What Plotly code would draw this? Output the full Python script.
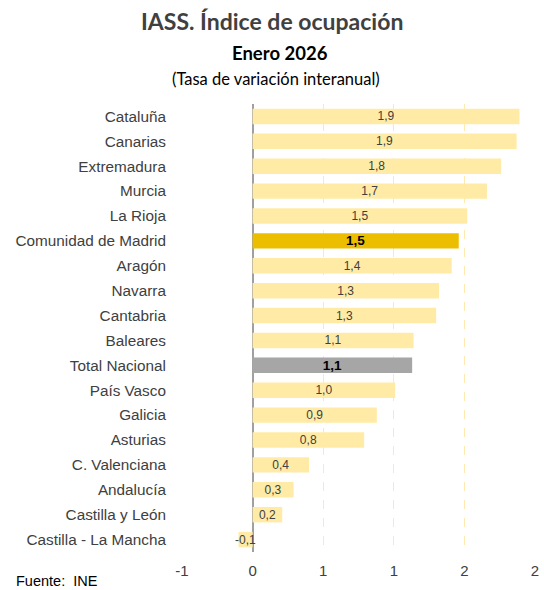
import plotly.graph_objects as go

regions = ["Cataluña", "Canarias", "Extremadura", "Murcia", "La Rioja",
           "Comunidad de Madrid", "Aragón", "Navarra", "Cantabria", "Baleares",
           "Total Nacional", "País Vasco", "Galicia", "Asturias", "C. Valenciana",
           "Andalucía", "Castilla y León", "Castilla - La Mancha"]
values = [1.89, 1.87, 1.76, 1.66, 1.52, 1.46, 1.41, 1.32, 1.30, 1.14,
          1.13, 1.01, 0.88, 0.79, 0.40, 0.29, 0.21, -0.10]
tick_vals = [-0.5, 0, 0.5, 1.0, 1.5, 2.0]
tick_text = ["-1", "0", "1", "1", "2", "2"]

highlight = {"Comunidad de Madrid": "#EBBE00", "Total Nacional": "#A6A6A6"}
base_color = "#FFEBA6"

colors, texts, tsize, tcolor = [], [], [], []
for r, v in zip(regions, values):
    s = f"{v:.1f}".replace(".", ",")
    if r in highlight:
        colors.append(highlight[r])
        texts.append(f"<b>{s}</b>")
        tsize.append(13.5)
        tcolor.append("#000000")
    else:
        colors.append(base_color)
        texts.append(s)
        tsize.append(12)
        tcolor.append("#404040")

fig = go.Figure(go.Bar(
    x=values, y=regions, orientation="h",
    marker=dict(color=colors, line=dict(width=0)),
    text=texts, textposition="inside", insidetextanchor="middle",
    textangle=0, constraintext="none", cliponaxis=False,
    textfont=dict(family="Liberation Sans, Arial", size=tsize, color=tcolor),
    hoverinfo="skip",
))

L, R, T, B = 182, 9, 104, 38
W, H = 544, 590
pw, ph = W - L - R, H - T - B

def px_x(x):
    return (x - L) / pw

def px_y(y):
    return (H - B - y) / ph

fig.update_layout(
    template="none",
    width=W, height=H,
    margin=dict(l=L, r=R, t=T, b=B, autoexpand=False),
    plot_bgcolor="white", paper_bgcolor="white",
    bargap=0.38, showlegend=False,
    font=dict(family="Liberation Sans, Arial", color="#404040"),
    xaxis=dict(range=[-0.5, 2.0], tickvals=tick_vals, ticktext=tick_text,
               showgrid=True, gridcolor="#FFE9B0", griddash="dash", gridwidth=1,
               zeroline=True, zerolinecolor="#A0A0A0", zerolinewidth=1.5,
               ticks="outside", ticklen=5, tickcolor="rgba(0,0,0,0)",
               tickfont=dict(size=15, color="#404040"), fixedrange=True,
               showline=False, automargin=False),
    yaxis=dict(autorange="reversed", ticks="outside", ticklen=12,
               tickcolor="rgba(0,0,0,0)", tickfont=dict(size=15.3, color="#404040"),
               showgrid=False, zeroline=False, fixedrange=True, automargin=False,
               showline=False),
    annotations=[
        dict(text="<b>IASS. Índice de ocupación</b>", x=px_x(272), y=px_y(21),
             xanchor="center", yanchor="middle", xref="paper", yref="paper",
             showarrow=False, font=dict(family="Lato", size=23, color="#404040")),
        dict(text="<b>Enero 2026</b>", x=px_x(280), y=px_y(53),
             xanchor="center", yanchor="middle", xref="paper", yref="paper",
             showarrow=False, font=dict(family="Lato", size=18.5, color="#000000")),
        dict(text="(Tasa de variación interanual)", x=px_x(276), y=px_y(79),
             xanchor="center", yanchor="middle", xref="paper", yref="paper",
             showarrow=False, font=dict(family="Lato", size=16.5, color="#000000")),
        dict(text="Fuente:  INE", x=px_x(14), y=px_y(581),
             xanchor="left", yanchor="middle", xref="paper", yref="paper",
             showarrow=False,
             font=dict(family="Liberation Sans, Arial", size=14.5, color="#000000")),
    ],
)

fig.write_html("out.html", config={"displayModeBar": False},
               post_script="document.body.style.margin='0';document.body.style.padding='0';")
